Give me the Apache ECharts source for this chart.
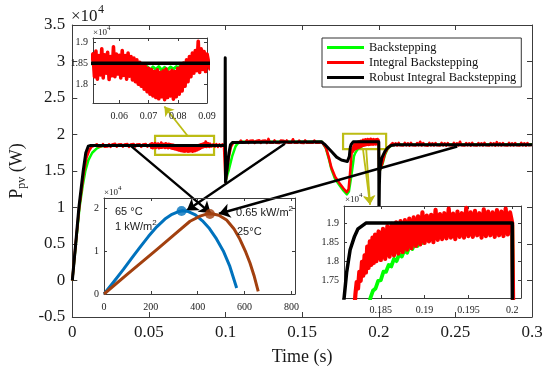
<!DOCTYPE html>
<html><head><meta charset="utf-8">
<script src="https://cdn.jsdelivr.net/npm/echarts@6/dist/echarts.min.js"></script>
<style>html,body{margin:0;padding:0;background:#fff}#c{width:550px;height:371px}</style>
</head><body><div id="c"></div>
<script>
// ---------- tick labels ----------
const mainXTicks = [0, 0.05, 0.1, 0.15, 0.2, 0.25, 0.3];
const mainYTicks = [-0.5, 0, 0.5, 1, 1.5, 2, 2.5, 3, 3.5];
const inset1XTicks = [0.06, 0.07, 0.08, 0.09];
const inset1YTicks = [1.8, 1.85, 1.9];
const inset3XTicks = [0.185, 0.19, 0.195, 0.2];
const inset3YTicks = [1.75, 1.8, 1.85, 1.9];
const pvXTicks = [0, 200, 400, 600, 800];
const pvYTicks = [0, 1, 2];
const legendNames = ['Backstepping', 'Integral Backstepping', 'Robust Integral Backstepping'];

// ---------- Robust Integral Backstepping (black), [t, P x1e4] ----------
const robustRise = [[0,0],[0.0022,0.5],[0.0043,1.0],[0.0071,1.5],[0.0088,1.75],[0.0104,1.84],[0.012,1.85]];
const robustStep1 = [[0.0996,1.85],[0.0998,3.05],[0.1,1.35],[0.1008,1.5],[0.1022,1.745],[0.1032,1.86],[0.1045,1.89],[0.1055,1.9]];
const robustStep2 = [[0.1625,1.9],[0.165,1.86],[0.169,1.77],[0.1725,1.69],[0.1756,1.65],[0.1795,1.63],[0.1803,1.63],[0.1808,1.70],[0.1811,1.77],[0.1815,1.83],[0.182,1.865],[0.1824,1.885],[0.1833,1.9]];
const robustStep3 = [[0.2,1.9],[0.2001,0.7],[0.2004,1.3],[0.2007,1.52],[0.202,1.68],[0.204,1.77],[0.2058,1.82],[0.208,1.85],[0.211,1.86],[0.3,1.86]];

// ---------- Backstepping (green) ----------
const greenRise = [[0,0],[0.0023,0.5],[0.0047,1.0],[0.0068,1.3],[0.0085,1.5],[0.0105,1.65],[0.013,1.75],[0.016,1.81],[0.019,1.84],[0.022,1.85]];
const greenSag = [[0.066,1.848],[0.0665,1.838],[0.0675,1.843],[0.0685,1.836],[0.0695,1.842],[0.0705,1.834],[0.0715,1.841],[0.0725,1.835],[0.0735,1.842],[0.0745,1.833],[0.0755,1.84],[0.0765,1.834],[0.0775,1.841],[0.0785,1.836],[0.0795,1.842],[0.0805,1.838],[0.081,1.848],[0.0996,1.85]];
const greenStep1 = [[0.1,1.35],[0.1012,1.45],[0.1022,1.52],[0.1043,1.7],[0.1065,1.835],[0.1076,1.87],[0.11,1.9],[0.163,1.9]];
const greenDip = [[0.1655,1.81],[0.1675,1.66],[0.169,1.53],[0.1715,1.39],[0.1745,1.3],[0.177,1.23],[0.1792,1.18],[0.1805,1.22],[0.182,1.42],[0.1832,1.6]];
const greenRecover = [[0.1838,1.702],[0.1841,1.722],[0.1844,1.728],[0.1847,1.748],[0.185,1.75],[0.1853,1.772],[0.1856,1.772],[0.1859,1.79],[0.1862,1.786],[0.1865,1.806],[0.1868,1.80],[0.1871,1.818],[0.1874,1.812],[0.1877,1.83],[0.188,1.822],[0.1883,1.84],[0.1886,1.832],[0.1889,1.848],[0.1892,1.84],[0.1895,1.856],[0.1898,1.848],[0.1901,1.862],[0.1904,1.854],[0.1907,1.868],[0.191,1.86],[0.1913,1.872],[0.1916,1.864],[0.192,1.876],[0.1925,1.868],[0.193,1.88],[0.1935,1.872],[0.194,1.884],[0.195,1.88],[0.196,1.89],[0.198,1.892],[0.2,1.895]];
const greenEnd = [[0.2002,1.48],[0.2025,1.6],[0.204,1.72],[0.2055,1.79],[0.207,1.83],[0.209,1.86],[0.3,1.865]];

// ---------- Integral Backstepping (red) ----------
const redRise = [[0,0],[0.0022,0.5],[0.0045,1.0],[0.0073,1.45],[0.0092,1.68],[0.011,1.78],[0.0125,1.83],[0.014,1.845]];
const redFlat1 = [[0.016,1.865],[0.017,1.835],[0.018,1.862],[0.019,1.838],[0.02,1.868],[0.021,1.834],[0.022,1.86],[0.023,1.836],[0.024,1.866],[0.025,1.832],[0.026,1.862],[0.027,1.838],[0.028,1.872],[0.029,1.834],[0.03,1.862],[0.031,1.836],[0.032,1.866],[0.033,1.834],[0.034,1.864],[0.035,1.838],[0.036,1.868],[0.037,1.832],[0.038,1.862],[0.039,1.836],[0.04,1.87],[0.041,1.834],[0.042,1.862],[0.043,1.838],[0.044,1.866],[0.045,1.832],[0.046,1.862],[0.047,1.836],[0.048,1.868],[0.049,1.834],[0.05,1.86]];
const redZoom1 = [[0.051,1.872],[0.0515,1.818],[0.052,1.879],[0.0525,1.812],[0.053,1.868],[0.0535,1.822],[0.054,1.884],[0.0545,1.815],[0.055,1.87],[0.0555,1.826],[0.056,1.876],[0.0565,1.811],[0.057,1.866],[0.0575,1.82],[0.058,1.889],[0.0585,1.818],[0.059,1.872],[0.0595,1.824],[0.06,1.869],[0.0605,1.815],[0.061,1.88],[0.0615,1.821],[0.062,1.868],[0.0625,1.812],[0.063,1.874],[0.0635,1.819],[0.064,1.866],[0.0645,1.81],[0.065,1.862],[0.0655,1.806],[0.066,1.858],[0.0665,1.8],[0.067,1.852],[0.0675,1.795],[0.068,1.846],[0.0685,1.788],[0.069,1.842],[0.0695,1.782],[0.07,1.838],[0.0705,1.776],[0.071,1.835],[0.0715,1.772],[0.072,1.83],[0.0725,1.768],[0.073,1.834],[0.0735,1.765],[0.074,1.828],[0.0745,1.77],[0.075,1.832],[0.0755,1.763],[0.076,1.836],[0.0765,1.768],[0.077,1.829],[0.0775,1.772],[0.078,1.833],[0.0785,1.764],[0.079,1.83],[0.0795,1.77],[0.08,1.838],[0.0805,1.776],[0.081,1.842],[0.0815,1.784],[0.082,1.85],[0.0825,1.795],[0.083,1.858],[0.0835,1.806],[0.084,1.866],[0.0845,1.818],[0.085,1.874],[0.0855,1.826],[0.086,1.88],[0.0865,1.832],[0.087,1.902],[0.0875,1.828],[0.088,1.884],[0.0885,1.835],[0.089,1.878],[0.0895,1.83],[0.09,1.872]];
const redFlat1b = [[0.091,1.836],[0.092,1.866],[0.093,1.834],[0.094,1.868],[0.095,1.832],[0.096,1.864],[0.097,1.836],[0.098,1.866],[0.099,1.838],[0.0996,1.85]];
const redStep1 = [[0.1,1.35],[0.1008,1.48],[0.102,1.68],[0.1035,1.83],[0.105,1.885]];
const redFlat2 = [[0.106,1.905],[0.107,1.89],[0.108,1.914],[0.109,1.888],[0.11,1.916],[0.111,1.886],[0.112,1.912],[0.113,1.89],[0.114,1.92],[0.115,1.886],[0.116,1.914],[0.117,1.888],[0.118,1.916],[0.119,1.884],[0.12,1.912],[0.121,1.89],[0.122,1.922],[0.123,1.886],[0.124,1.914],[0.125,1.888],[0.126,1.916],[0.127,1.884],[0.128,1.94],[0.129,1.888],[0.13,1.914],[0.131,1.886],[0.132,1.918],[0.133,1.888],[0.134,1.912],[0.135,1.884],[0.136,1.916],[0.137,1.89],[0.138,1.914],[0.139,1.886],[0.14,1.918],[0.141,1.888],[0.142,1.912],[0.143,1.886],[0.144,1.935],[0.145,1.888],[0.146,1.914],[0.147,1.886],[0.148,1.916],[0.149,1.888],[0.15,1.912],[0.151,1.884],[0.152,1.918],[0.153,1.888],[0.154,1.914],[0.155,1.886],[0.156,1.912],[0.157,1.888],[0.158,1.916],[0.159,1.886],[0.16,1.912],[0.161,1.888],[0.162,1.91],[0.163,1.895]];
const redDip = [[0.1655,1.82],[0.1675,1.68],[0.169,1.55],[0.1715,1.42],[0.1745,1.33],[0.177,1.26],[0.179,1.21],[0.1803,1.25],[0.1812,1.45],[0.1818,1.62]];
const redZoom3 = [[0.1821,1.712],[0.18225,1.745],[0.1824,1.728],[0.18255,1.772],[0.1827,1.748],[0.18285,1.798],[0.183,1.762],[0.18315,1.815],[0.1833,1.77],[0.18345,1.838],[0.1836,1.782],[0.18375,1.852],[0.1839,1.79],[0.18405,1.862],[0.1842,1.795],[0.18435,1.87],[0.1845,1.8],[0.18475,1.878],[0.185,1.803],[0.18525,1.885],[0.1855,1.806],[0.18575,1.892],[0.186,1.812],[0.18625,1.898],[0.1865,1.815],[0.18675,1.902],[0.187,1.82],[0.18725,1.905],[0.1875,1.824],[0.18775,1.908],[0.188,1.83],[0.18825,1.912],[0.1885,1.834],[0.18875,1.915],[0.189,1.84],[0.18925,1.918],[0.1895,1.844],[0.18975,1.928],[0.19,1.848],[0.19025,1.92],[0.1905,1.852],[0.19075,1.922],[0.191,1.85],[0.19125,1.935],[0.1915,1.856],[0.19175,1.924],[0.192,1.858],[0.19225,1.926],[0.1925,1.86],[0.19275,1.938],[0.193,1.862],[0.19325,1.925],[0.1935,1.858],[0.19375,1.93],[0.194,1.864],[0.19425,1.926],[0.1945,1.862],[0.19475,1.94],[0.195,1.866],[0.19525,1.928],[0.1955,1.864],[0.19575,1.932],[0.196,1.868],[0.19625,1.926],[0.1965,1.862],[0.19675,1.936],[0.197,1.866],[0.19725,1.93],[0.1975,1.868],[0.19775,1.928],[0.198,1.864],[0.19825,1.934],[0.1985,1.868],[0.19875,1.93],[0.199,1.866],[0.19925,1.938],[0.1995,1.87],[0.19975,1.928],[0.2,1.9]];
const redStep3 = [[0.2002,1.48],[0.2025,1.62],[0.204,1.74],[0.2055,1.8],[0.207,1.84]];
const redFlat3 = [[0.208,1.858],[0.209,1.882],[0.21,1.852],[0.211,1.88],[0.212,1.85],[0.213,1.884],[0.214,1.852],[0.215,1.878],[0.216,1.85],[0.217,1.886],[0.218,1.852],[0.219,1.88],[0.22,1.848],[0.221,1.884],[0.222,1.852],[0.223,1.878],[0.224,1.85],[0.225,1.882],[0.226,1.852],[0.227,1.9],[0.228,1.85],[0.229,1.882],[0.23,1.852],[0.231,1.878],[0.232,1.848],[0.233,1.884],[0.234,1.852],[0.235,1.88],[0.236,1.85],[0.237,1.882],[0.238,1.852],[0.239,1.878],[0.24,1.85],[0.241,1.886],[0.242,1.852],[0.243,1.88],[0.244,1.848],[0.245,1.882],[0.246,1.852],[0.247,1.878],[0.248,1.85],[0.249,1.884],[0.25,1.852],[0.251,1.88],[0.252,1.85],[0.253,1.9],[0.254,1.852],[0.255,1.878],[0.256,1.85],[0.257,1.882],[0.258,1.852],[0.259,1.88],[0.26,1.848],[0.261,1.884],[0.262,1.852],[0.263,1.878],[0.264,1.85],[0.265,1.882],[0.266,1.852],[0.267,1.88],[0.268,1.85],[0.269,1.886],[0.27,1.852],[0.271,1.878],[0.272,1.85],[0.273,1.882],[0.274,1.852],[0.275,1.88],[0.276,1.848],[0.277,1.895],[0.278,1.852],[0.279,1.88],[0.28,1.85],[0.281,1.882],[0.282,1.852],[0.283,1.878],[0.284,1.85],[0.285,1.884],[0.286,1.852],[0.287,1.88],[0.288,1.85],[0.289,1.882],[0.29,1.852],[0.291,1.878],[0.292,1.85],[0.293,1.886],[0.294,1.852],[0.295,1.88],[0.296,1.848],[0.297,1.882],[0.298,1.852],[0.299,1.878],[0.3,1.86]];

// ---------- P-V curves (inset), [V, P x1e4] ----------
const pv65 = [[0,0],[41,0.28],[82,0.565],[120,0.845],[154,1.09],[190,1.34],[225,1.56],[260,1.74],[290,1.85],[315,1.91],[335,1.935],[360,1.915],[390,1.84],[420,1.7],[450,1.52],[480,1.28],[509,1.0],[537,0.64],[566,0.14]];
const pv25 = [[0,0],[100,0.46],[225,1.03],[300,1.38],[367,1.69],[410,1.81],[440,1.86],[460,1.865],[490,1.83],[523,1.72],[555,1.51],[580,1.27],[605,0.97],[623,0.72],[640,0.43],[658,0.06]];
const mpp65 = [[331,1.93]];
const mpp25 = [[452,1.86]];

// ---------- annotations (main-axis coordinates) ----------
const blackArrows = [[[0.0382,1.845],[0.0903,0.923]], [[0.1387,1.873],[0.0747,0.959]], [[0.2512,1.836],[0.0957,0.914]]];
const oliveRects = [[[0.054,1.982],[0.0925,1.722]], [[0.1767,2.01],[0.2048,1.80]]];
const oliveArrows = [[[0.0752,1.982],[0.0601,2.384]], [[0.1897,1.80],[0.1943,1.04]], [[0.1918,1.80],[0.1943,1.04]]];

const robust = [].concat(robustRise, robustStep1, robustStep2, robustStep3);
const backstep = [].concat(greenRise, greenSag, greenStep1, greenDip, greenRecover, greenEnd);
const integral = [].concat(redRise, redFlat1, redZoom1, redFlat1b, redStep1, redFlat2, redDip, redZoom3, redStep3, redFlat3);

const SERIF = '"Liberation Serif","Times New Roman",serif';
const SANS = '"Liberation Sans",Arial,sans-serif';
const AX = '#3c3c3c';
const GREEN = '#00ff00', RED = '#ff0000', BLACK = '#000000', OLIVE = '#bcbc14';
const BLUE = '#0072bd', BROWN = '#a2400f';

function ax(gi, pos, range, ticks, showLabel, c) {
  return {
    type: 'value', gridIndex: gi, position: pos, min: range[0], max: range[1], z: c.z,
    axisLine: {show: true, onZero: false, lineStyle: {color: AX, width: 1}},
    splitLine: {show: false},
    axisTick: {show: true, inside: true, length: c.tick, customValues: ticks, lineStyle: {color: AX, width: 1}},
    axisLabel: {show: showLabel, customValues: ticks, fontFamily: SERIF, fontSize: c.font, color: '#1a1a1a', margin: c.margin}
  };
}
function ln(name, data, xi, yi, color, width, z) {
  return {type: 'line', name: name, data: data, xAxisIndex: xi, yAxisIndex: yi, showSymbol: false, symbol: 'none',
    lineStyle: {color: color, width: width, join: 'round'}, itemStyle: {color: color}, z: z, clip: true, silent: true};
}

const M = {z: 1, tick: 5, font: 17, margin: 7};
const I1x = {z: 11, tick: 3, font: 10, margin: 8};
const I1y = {z: 11, tick: 3, font: 10, margin: 5};
const I3x = {z: 11, tick: 3, font: 10, margin: 7};
const PVx = {z: 11, tick: 3, font: 10, margin: 8};

const xAxes = [
  Object.assign(ax(0, 'bottom', [0, 0.3], mainXTicks, true, M), {name: 'Time (s)', nameLocation: 'middle', nameGap: 31, nameTextStyle: {fontFamily: SERIF, fontSize: 18, color: '#1a1a1a'}}),
  ax(0, 'top', [0, 0.3], mainXTicks, false, M),
  ax(1, 'bottom', [0.051, 0.09], inset1XTicks, true, I1x),
  ax(1, 'top', [0.051, 0.09], inset1XTicks, false, I1x),
  ax(2, 'bottom', [0.1808, 0.201], inset3XTicks, true, I3x),
  ax(2, 'top', [0.1808, 0.201], inset3XTicks, false, I3x),
  ax(3, 'bottom', [0, 815], pvXTicks, true, PVx),
  ax(3, 'top', [0, 815], pvXTicks, false, PVx)
];
const yAxes = [
  Object.assign(ax(0, 'left', [-0.5, 3.5], mainYTicks, true, M), {name: 'P{s|pv} (W)', nameLocation: 'middle', nameGap: 36,
    nameTextStyle: {fontFamily: SERIF, fontSize: 18, color: '#1a1a1a', rich: {s: {fontFamily: SERIF, fontSize: 12, padding: [9, 0, 0, 0], color: '#1a1a1a'}}}}),
  ax(0, 'right', [-0.5, 3.5], mainYTicks, false, M),
  ax(1, 'left', [1.755, 1.91], inset1YTicks, true, I1y),
  ax(1, 'right', [1.755, 1.91], inset1YTicks, false, I1y),
  ax(2, 'left', [1.703, 1.945], inset3YTicks, true, I1y),
  ax(2, 'right', [1.703, 1.945], inset3YTicks, false, I1y),
  ax(3, 'left', [0, 2.23], pvYTicks, true, I1y),
  ax(3, 'right', [0, 2.23], pvYTicks, false, I1y)
];

const series = [
  ln(legendNames[0], backstep, 0, 0, GREEN, 2.5, 2),
  ln(legendNames[1], integral, 0, 0, RED, 2.6, 3),
  ln(legendNames[2], robust, 0, 0, BLACK, 3, 4),
  ln(legendNames[0], backstep, 2, 2, GREEN, 3, 12),
  ln(legendNames[1], integral, 2, 2, RED, 3.6, 13),
  ln(legendNames[2], robust, 2, 2, BLACK, 3.5, 14),
  ln(legendNames[0], backstep, 4, 4, GREEN, 3.8, 12),
  ln(legendNames[1], integral, 4, 4, RED, 4.2, 13),
  ln(legendNames[2], robust, 4, 4, BLACK, 3.5, 14),
  ln('pv65', pv65, 6, 6, BLUE, 3, 12),
  ln('pv25', pv25, 6, 6, BROWN, 3, 12),
  {type: 'scatter', name: 'mpp65', data: mpp65, xAxisIndex: 6, yAxisIndex: 6, symbolSize: 10, itemStyle: {color: BLUE}, z: 13, silent: true},
  {type: 'scatter', name: 'mpp25', data: mpp25, xAxisIndex: 6, yAxisIndex: 6, symbolSize: 10, itemStyle: {color: BROWN}, z: 13, silent: true},
  {type: 'line', name: 'zoomBoxes', data: [], xAxisIndex: 0, yAxisIndex: 0, z: 25, silent: true,
    markArea: {silent: true, itemStyle: {color: 'rgba(0,0,0,0)', borderColor: OLIVE, borderWidth: 2.2},
      data: oliveRects.map(r => [{coord: r[0]}, {coord: r[1]}])},
    markLine: {silent: true, symbol: ['none', 'arrow'], symbolSize: 9, label: {show: false},
      lineStyle: {color: OLIVE, width: 1.8, type: 'solid'},
      data: oliveArrows.map(a => [{coord: a[0]}, {coord: a[1]}])}},
  {type: 'line', name: 'arrows', data: [], xAxisIndex: 0, yAxisIndex: 0, z: 30, silent: true,
    markLine: {silent: true, symbol: ['none', 'arrow'], symbolSize: 11, label: {show: false},
      lineStyle: {color: BLACK, width: 2.4, type: 'solid'},
      data: blackArrows.map(a => [{coord: a[0]}, {coord: a[1]}])}}
];

function txt(x, y, s, font, size, z) {
  return {type: 'text', left: x, top: y, z: z || 40, silent: true, style: {text: s, fontFamily: font, fontSize: size, fill: '#1a1a1a'}};
}
function richTxt(x, y, s, size, supSize) {
  return {type: 'text', left: x, top: y, z: 40, silent: true,
    style: {text: s, fontFamily: SANS, fontSize: size, fill: '#1a1a1a',
      rich: {s: {fontFamily: SANS, fontSize: supSize, fill: '#1a1a1a', padding: [0, 0, 7, 0]}}}};
}

const graphic = [
  txt(71, 8, '×10', SERIF, 17), txt(98, 4, '4', SERIF, 12),
  txt(93, 28, '×10', SERIF, 9), txt(107, 25, '4', SERIF, 7),
  txt(104, 188, '×10', SERIF, 9), txt(118, 185, '4', SERIF, 7),
  txt(345, 195, '×10', SERIF, 9), txt(359, 192, '4', SERIF, 7),
  txt(115, 206, '65 °C', SANS, 11),
  richTxt(115, 219, '1 kW/m{s|2}', 11, 8),
  richTxt(236, 205, '0.65 kW/m{s|2}', 11, 8),
  txt(237, 226, '25°C', SANS, 11)
];

const chart = echarts.init(document.getElementById('c'), null, {renderer: 'canvas'});
chart.setOption({
  animation: false,
  backgroundColor: '#ffffff',
  grid: [
    {left: 69, top: 25, width: 463, height: 292, show: false},
    {left: 93, top: 38, width: 114, height: 65, show: true, backgroundColor: '#fff', borderWidth: 0, z: 10},
    {left: 344, top: 206, width: 177, height: 92, show: true, backgroundColor: '#fff', borderWidth: 0, z: 10},
    {left: 104, top: 198, width: 191, height: 96, show: false}
  ],
  legend: {data: legendNames, orient: 'vertical', left: 322, top: 38, itemWidth: 37, itemHeight: 3, itemGap: 0, itemTextGap: 4,
    icon: 'rect', padding: [2, 5, 2, 5], borderColor: '#333', borderWidth: 1, backgroundColor: '#fff', selectedMode: false, z: 20,
    textStyle: {fontFamily: SERIF, fontSize: 12.4, color: '#111', lineHeight: 15}},
  xAxis: xAxes,
  yAxis: yAxes,
  series: series,
  graphic: graphic
});
</script></body></html>
